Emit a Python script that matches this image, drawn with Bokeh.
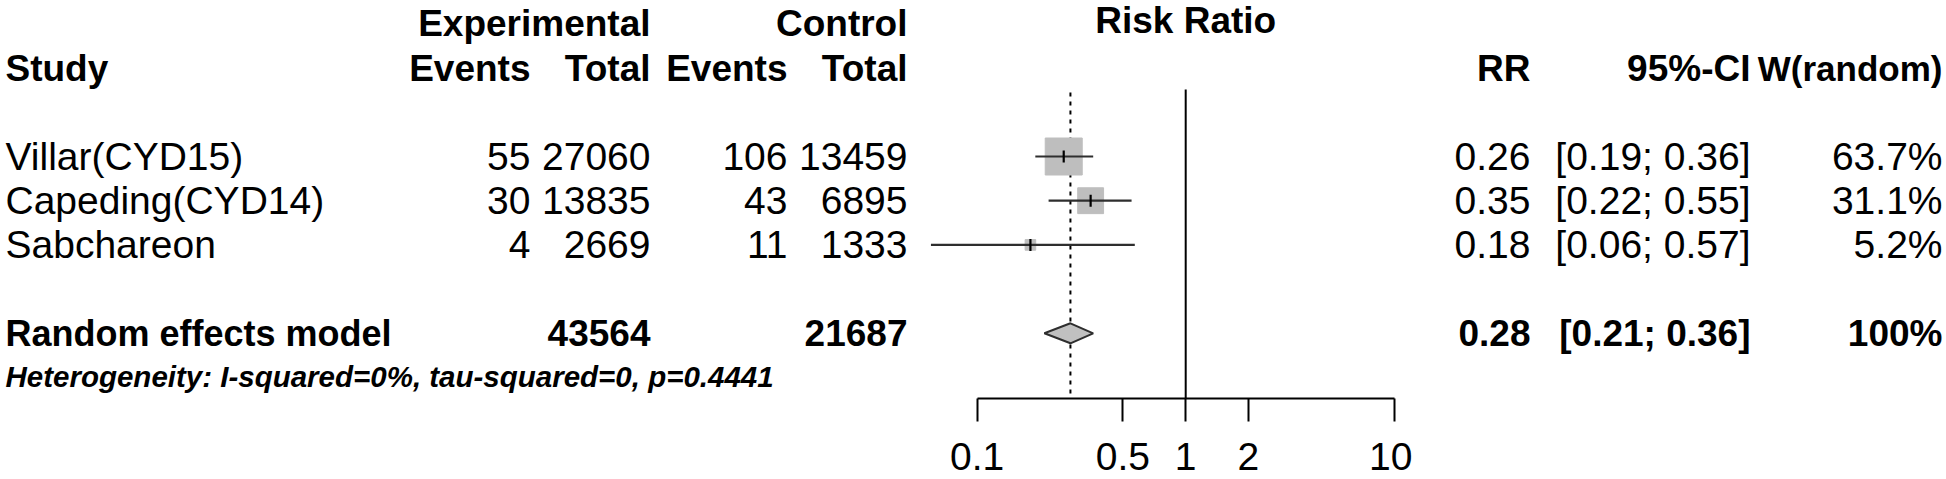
from bokeh.plotting import figure
from bokeh.models import Range1d, FixedTicker, CustomJSTickFormatter, ColumnDataSource
from bokeh.layouts import row
from bokeh.embed import file_html
from bokeh.resources import INLINE
from bokeh.core.properties import value
import numpy as np

# ---------------- data ----------------
studies = ["Villar(CYD15)", "Capeding(CYD14)", "Sabchareon"]
exp_events = [55, 30, 4]
exp_total = [27060, 13835, 2669]
ctl_events = [106, 43, 11]
ctl_total = [13459, 6895, 1333]
rr = [0.26, 0.35, 0.18]
ci_lower = [0.19, 0.22, 0.06]
ci_upper = [0.36, 0.55, 0.57]
weights = [63.7, 31.1, 5.2]

pooled_label = "Random effects model"
pooled_rr = 0.28
pooled_lower = 0.21
pooled_upper = 0.36
pooled_exp_total = 43564
pooled_ctl_total = 21687
pooled_weight = "100%"
het_text = "Heterogeneity: I-squared=0%, tau-squared=0, p=0.4441"

axis_ticks = [0.1, 0.5, 1, 2, 10]
axis_labels = ["0.1", "0.5", "1", "2", "10"]

# ---------------- layout constants ----------------
FONT = "Liberation Sans"
FS_B = "37px"        # bold headings
FS_R = "39px"        # regular body text
FS_HET = "29.5px"
PITCH = 44.2          # px per table row
Y_ROW1 = 23.4         # page y of first header row
PAGE_W, PAGE_H = 1946, 479
AXIS_Y = 398.0
BORDER_B = int(PAGE_H - AXIS_Y)


def r_of(y):
    return (y - Y_ROW1) / PITCH + 1.0


study_rows = [4, 5, 6]
pooled_row = 8
het_row = r_of(376)
title_row = r_of(19.5)
Y_RANGE = (r_of(AXIS_Y), r_of(0))


def blank(width, x_range):
    p = figure(width=width, height=PAGE_H, x_range=x_range, y_range=Range1d(*Y_RANGE),
               output_backend="svg", toolbar_location=None,
               x_axis_location=None, y_axis_location=None,
               min_border_left=0, min_border_right=0, min_border_top=0,
               min_border_bottom=BORDER_B, outline_line_color=None)
    p.xgrid.grid_line_color = None
    p.ygrid.grid_line_color = None
    return p


def put(p, xs, ys, texts, align="right", style="normal", size=FS_R):
    p.text(x=xs, y=ys, text=texts, text_align=value(align), text_baseline=value("middle"),
           text_font=value(FONT), text_font_size=value(size),
           text_font_style=value(style), text_color="black")


# ---------------- left table ----------------
LW = 912
left = blank(LW, Range1d(0, LW))
X_STUDY, X_EE, X_ET, X_CE, X_CT = 5, 530, 650, 787, 907
put(left, [X_ET, X_CT], [1, 1], ["Experimental", "Control"], style="bold", size=FS_B)
put(left, [X_STUDY], [2], ["Study"], align="left", style="bold", size=FS_B)
put(left, [X_EE, X_ET, X_CE, X_CT], [2, 2, 2, 2], ["Events", "Total", "Events", "Total"],
    style="bold", size=FS_B)
put(left, [X_STUDY] * 3, study_rows, studies, align="left")
put(left, [X_EE] * 3, study_rows, [str(v) for v in exp_events])
put(left, [X_ET] * 3, study_rows, [str(v) for v in exp_total])
put(left, [X_CE] * 3, study_rows, [str(v) for v in ctl_events])
put(left, [X_CT] * 3, study_rows, [str(v) for v in ctl_total])
put(left, [X_STUDY], [pooled_row], [pooled_label], align="left", style="bold", size="36px")
put(left, [X_ET, X_CT], [pooled_row] * 2, [str(pooled_exp_total), str(pooled_ctl_total)],
    style="bold", size=FS_B)
put(left, [X_STUDY], [het_row], [het_text], align="left", style="bold italic", size=FS_HET)

# ---------------- forest panel ----------------
FW = 500
X1_PAGE = 1185.2       # page x of RR = 1
PX_DECADE = 208.5      # px per decade of the log axis
lo = 10 ** ((LW - X1_PAGE) / PX_DECADE)
hi = 10 ** ((LW + FW - X1_PAGE) / PX_DECADE)

forest = figure(width=FW, height=PAGE_H, x_axis_type="log",
                x_range=Range1d(lo, hi), y_range=Range1d(*Y_RANGE),
                output_backend="svg", toolbar_location=None,
                y_axis_location=None, x_axis_location="below",
                min_border_left=0, min_border_right=0, min_border_top=0,
                min_border_bottom=BORDER_B, outline_line_color=None)
forest.xgrid.grid_line_color = None
forest.ygrid.grid_line_color = None

ax = forest.xaxis[0]
ax.ticker = FixedTicker(ticks=axis_ticks, minor_ticks=[])
ax.formatter = CustomJSTickFormatter(
    args=dict(tvals=axis_ticks, tlabels=axis_labels),
    code="const i = tvals.findIndex(t => Math.abs(t - tick) < 1e-9); return i >= 0 ? tlabels[i] : '';")
ax.bounds = (axis_ticks[0], axis_ticks[-1])
ax.axis_line_width = 2
ax.axis_line_color = "black"
ax.major_tick_line_width = 2
ax.major_tick_line_color = "black"
ax.major_tick_out = 23
ax.major_tick_in = 0
ax.minor_tick_line_color = None
ax.major_label_text_font = FONT
ax.major_label_text_font_size = FS_R
ax.major_label_text_color = "black"
ax.major_label_text_line_height = 0.6
ax.major_label_standoff = 21

bottom_line = r_of(AXIS_Y) + 0.5
# line of no effect
forest.segment(x0=[1], x1=[1], y0=[r_of(89)], y1=[bottom_line], line_color="black", line_width=2)
# pooled estimate dotted line
forest.segment(x0=[pooled_rr], x1=[pooled_rr], y0=[r_of(92)], y1=[bottom_line],
               line_color="black", line_width=2, line_dash="4 5")

# squares (area proportional to weight)
MAX_SIDE = 37.0
sides = [MAX_SIDE * np.sqrt(w / max(weights)) for w in weights]
src = ColumnDataSource(dict(x=rr, y=study_rows, lo=ci_lower, hi=ci_upper, side=sides))
forest.rect(x="x", y="y", width="side", height="side", width_units="screen",
            height_units="screen", source=src, fill_color="#bebebe", line_color="#bebebe")
forest.segment(x0="lo", x1="hi", y0="y", y1="y", source=src, line_color="#2e2e2e", line_width=2.2)
forest.scatter(x="x", y="y", source=src, marker="dash", angle=np.pi / 2, size=12,
               line_color="black", line_width=2.2)

# diamond for pooled estimate
DH = 10.0 / PITCH
forest.patch(x=[pooled_lower, pooled_rr, pooled_upper, pooled_rr],
             y=[pooled_row, pooled_row - DH, pooled_row, pooled_row + DH],
             fill_color="#c0c0c0", line_color="#2e2e2e", line_width=2)

put(forest, [1], [title_row], ["Risk Ratio"], align="center", style="bold", size=FS_B)

# ---------------- right table ----------------
RW = PAGE_W - LW - FW
right = blank(RW, Range1d(LW + FW, PAGE_W))
X_RR, X_CI, X_W = 1530, 1750, 1942
put(right, [X_RR, X_CI], [2, 2], ["RR", "95%-CI"], style="bold", size=FS_B)
put(right, [X_W], [2], ["W(random)"], style="bold", size="35px")
put(right, [X_RR] * 3, study_rows, [f"{v:.2f}" for v in rr])
put(right, [X_CI] * 3, study_rows, [f"[{a:.2f}; {b:.2f}]" for a, b in zip(ci_lower, ci_upper)])
put(right, [X_W] * 3, study_rows, [f"{w:.1f}%" for w in weights])
put(right, [X_RR, X_CI, X_W], [pooled_row] * 3,
    [f"{pooled_rr:.2f}", f"[{pooled_lower:.2f}; {pooled_upper:.2f}]", pooled_weight],
    style="bold", size=FS_B)

layout = row(left, forest, right, spacing=0)
open("out.html", "w").write(file_html(layout, INLINE))
